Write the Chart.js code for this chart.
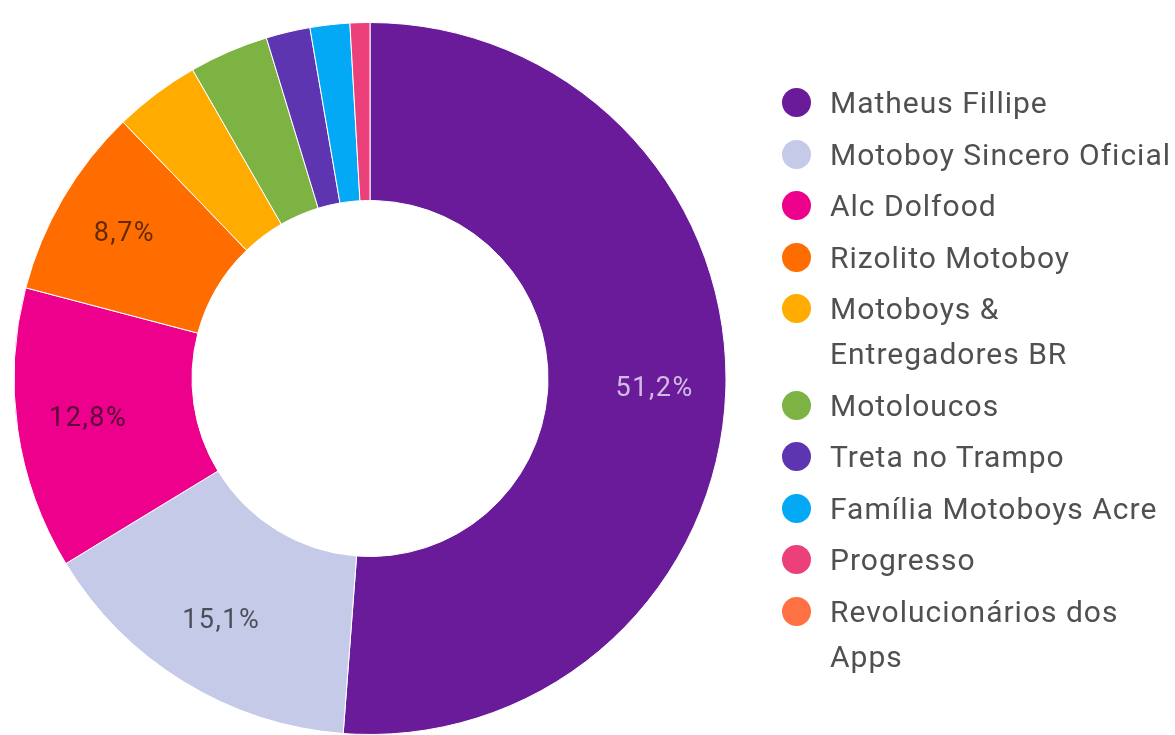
<!DOCTYPE html>
<html>
<head>
<meta charset="utf-8">
<script src="https://cdn.jsdelivr.net/npm/chart.js@4"></script>
<style>
    body { margin: 0; background: #fff; font-family: Roboto, sans-serif; }
    #wrap { position: relative; width: 1175px; height: 735px; overflow: hidden; }
    #legenda { position: absolute; left: 782px; top: 80px; }
    .stavka { display: flex; align-items: flex-start; margin-bottom: 6.5px; }
    .krug { width: 29px; height: 29px; border-radius: 50%; margin-top: 8px; margin-right: 19px; flex: none; }
    .tekst { font-size: 30px; letter-spacing: 1px; line-height: 45px; color: #505050; white-space: nowrap; }
</style>
</head>
<body>
<div id="wrap">
    <canvas id="graf" width="1175" height="735"></canvas>
    <div id="legenda"></div>
</div>
<script>
// podaci
const kanali = [
    'Matheus Fillipe',
    'Motoboy Sincero Oficial',
    'Alc Dolfood',
    'Rizolito Motoboy',
    ['Motoboys &', 'Entregadores BR'],
    'Motoloucos',
    'Treta no Trampo',
    'Família Motoboys Acre',
    'Progresso',
    ['Revolucionários dos', 'Apps']
];
const postoci = [51.2, 15.1, 12.8, 8.7, 3.9, 3.6, 2.0, 1.8, 0.9, 0];
const boje = ['#6a1b9a', '#c5cae9', '#ec008c', '#ff6d00', '#ffab00', '#7cb342', '#5e35b1', '#03a9f4', '#ec407a', '#ff7043'];

// natpisi u kriskama (samo veci od 5%)
const natpisi = {
    id: 'natpisi',
    afterDatasetsDraw(chart) {
        const ctx = chart.ctx;
        const meta = chart.getDatasetMeta(0);
        ctx.save();
        ctx.font = '27px Roboto, sans-serif';
        ctx.letterSpacing = '1.5px';
        ctx.textAlign = 'center';
        ctx.textBaseline = 'middle';
        meta.data.forEach((arc, i) => {
            const v = postoci[i];
            if (v < 5) return;
            const p = arc.getProps(['x', 'y', 'startAngle', 'endAngle', 'innerRadius', 'outerRadius'], true);
            const kut = (p.startAngle + p.endAngle) / 2;
            const r = p.innerRadius + 0.6 * (p.outerRadius - p.innerRadius);
            ctx.fillStyle = i === 0 ? 'rgba(255,255,255,0.7)' : 'rgba(0,0,0,0.62)';
            ctx.fillText(v.toFixed(1).replace('.', ',') + '%', p.x + Math.cos(kut) * r, p.y + Math.sin(kut) * r);
        });
        ctx.restore();
    }
};

const ctx = document.getElementById('graf').getContext('2d');
new Chart(ctx, {
    type: 'doughnut',
    data: {
        labels: kanali,
        datasets: [{
            data: postoci,
            backgroundColor: boje,
            borderColor: '#ffffff',
            borderWidth: 1
        }]
    },
    options: {
        responsive: false,
        animation: false,
        cutout: '50%',
        layout: { padding: { left: 13, right: 448, top: 22, bottom: 0 } },
        plugins: {
            legend: { display: false },
            tooltip: { enabled: false }
        }
    },
    plugins: [natpisi]
});

// legenda
const legenda = document.getElementById('legenda');
kanali.forEach((k, i) => {
    const red = document.createElement('div');
    red.className = 'stavka';
    const krug = document.createElement('div');
    krug.className = 'krug';
    krug.style.background = boje[i];
    const tekst = document.createElement('div');
    tekst.className = 'tekst';
    tekst.innerHTML = Array.isArray(k) ? k.join('<br>') : k;
    red.appendChild(krug);
    red.appendChild(tekst);
    legenda.appendChild(red);
});
</script>
</body>
</html>
